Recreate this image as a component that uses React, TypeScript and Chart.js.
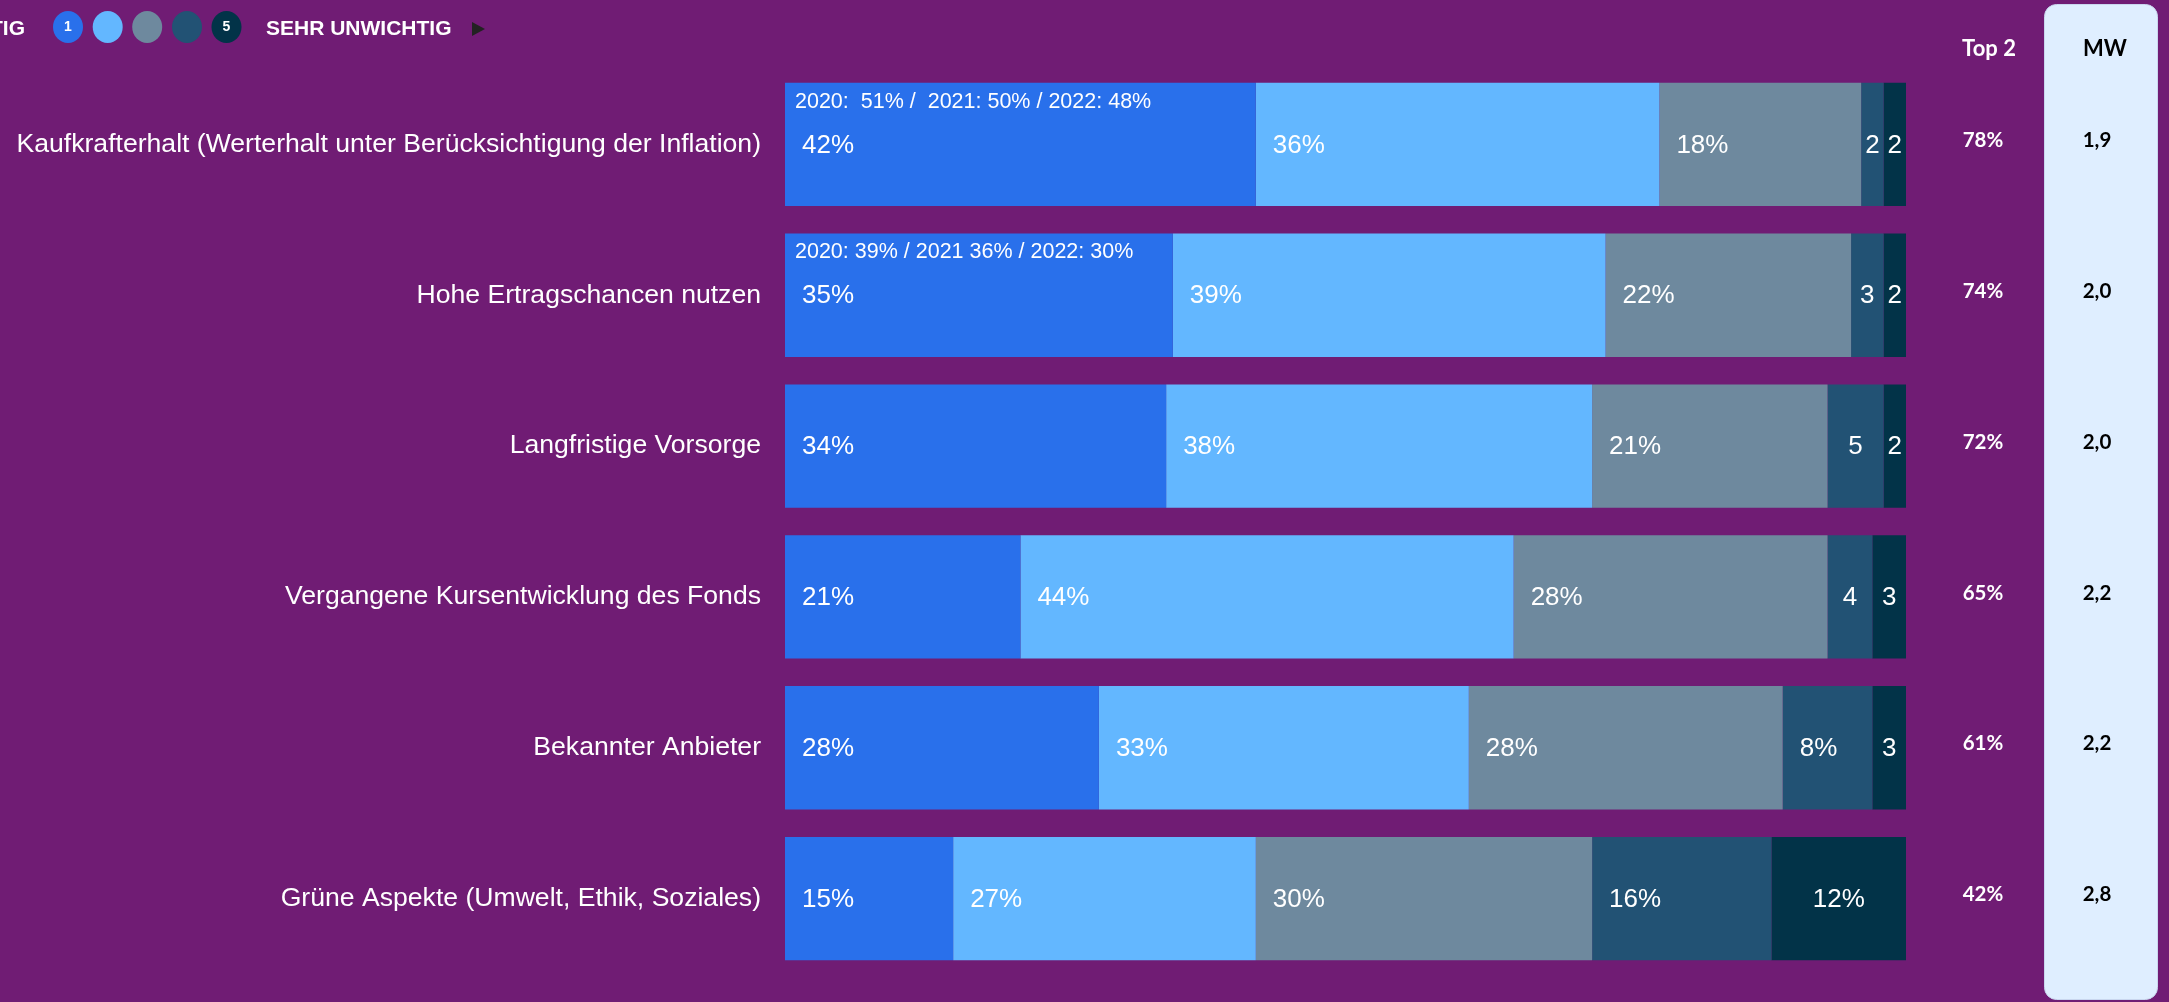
import React, { useEffect, useRef } from "react";
import { Chart, registerables } from "chart.js";

Chart.register(...registerables);

// ---------- data ----------
const categories = [
  "Kaufkrafterhalt (Werterhalt unter Berücksichtigung der Inflation)",
  "Hohe Ertragschancen nutzen",
  "Langfristige Vorsorge",
  "Vergangene Kursentwicklung des Fonds",
  "Bekannter Anbieter",
  "Grüne Aspekte (Umwelt, Ethik, Soziales)",
];
const rating1 = [42, 34.6, 34, 21, 28, 15];
const rating2 = [36, 38.6, 38, 44, 33, 27];
const rating3 = [18, 21.9, 21, 28, 28, 30];
const rating4 = [2, 2.9, 5, 4, 8, 16];
const rating5 = [2, 2.0, 2, 3, 3, 12];
const top2 = [78, 74, 72, 65, 61, 42];
const meanValues = [1.9, 2.0, 2.0, 2.2, 2.2, 2.8];
const trendNotes = [
  "2020:  51% /  2021: 50% / 2022: 48%",
  "2020: 39% / 2021 36% / 2022: 30%",
  "",
  "",
  "",
  "",
];
const legendLeftText = "SEHR WICHTIG";
const legendRightText = "SEHR UNWICHTIG";
const legendNumbers = ["1", "", "", "", "5"];
const headerTop2 = "Top 2";
const headerMW = "MW";

// ---------- styles ----------
const BG = "#701C74";
const seriesColors = ["#2970EB", "#63B7FF", "#6E899E", "#225274", "#023348"];
const PANEL = "#DFEEFF";
const ARIAL = "'Liberation Sans', Arial, sans-serif";
const CAL = "Lato, 'Open Sans', sans-serif";

const overlayPlugin = {
  id: "overlay",
  beforeDraw(chart: any) {
    const ctx = chart.ctx;
    ctx.save();
    ctx.fillStyle = BG;
    ctx.fillRect(0, 0, chart.width, chart.height);
    // MW panel
    ctx.fillStyle = PANEL;
    ctx.strokeStyle = "#C9D6EE";
    ctx.lineWidth = 1;
    ctx.beginPath();
    (ctx as any).roundRect(2044.5, 4.5, 113, 995, 12);
    ctx.fill();
    ctx.stroke();
    ctx.restore();
  },
  afterDatasetsDraw(chart: any) {
    const ctx = chart.ctx;
    ctx.save();
    ctx.fillStyle = "#FFFFFF";
    ctx.textBaseline = "middle";
    chart.data.datasets.forEach((ds: any, di: number) => {
      const meta = chart.getDatasetMeta(di);
      meta.data.forEach((el: any, i: number) => {
        const v = ds.data[i];
        const r = Math.round(v);
        const start = Math.min(el.base, el.x);
        const end = Math.max(el.base, el.x);
        ctx.font = `26px ${ARIAL}`;
        if (v >= 8 && di < 4) {
          ctx.textAlign = "left";
          ctx.fillText(`${r}%`, start + 17, el.y + 1);
        } else {
          ctx.textAlign = "center";
          ctx.fillText(v >= 8 ? `${r}%` : `${r}`, (start + end) / 2, el.y + 1);
        }
      });
    });
    // trend notes
    const meta0 = chart.getDatasetMeta(0);
    meta0.data.forEach((el: any, i: number) => {
      if (!trendNotes[i]) return;
      const top = el.y - el.height / 2;
      ctx.font = `21.5px ${ARIAL}`;
      ctx.textAlign = "left";
      ctx.fillText(trendNotes[i], Math.min(el.base, el.x) + 10, top + 19);
    });
    ctx.restore();
  },
  afterDraw(chart: any) {
    const ctx = chart.ctx;
    const yScale = chart.scales.y;
    ctx.save();
    ctx.textBaseline = "middle";
    // category labels
    ctx.fillStyle = "#FFFFFF";
    ctx.font = `26.6px ${ARIAL}`;
    ctx.textAlign = "right";
    categories.forEach((c, i) => {
      ctx.fillText(c, 761, yScale.getPixelForValue(i));
    });
    // headers
    ctx.font = `bold 22px ${CAL}`;
    ctx.textAlign = "center";
    ctx.fillStyle = "#FFFFFF";
    ctx.fillText(headerTop2, 1989, 49);
    ctx.fillStyle = "#000000";
    ctx.fillText(headerMW, 2105, 49);
    // values
    ctx.font = `bold 20.5px ${CAL}`;
    categories.forEach((_, i) => {
      const y = yScale.getPixelForValue(i) - 4;
      ctx.fillStyle = "#FFFFFF";
      ctx.fillText(`${top2[i]}%`, 1983, y);
      ctx.fillStyle = "#000000";
      ctx.fillText(meanValues[i].toFixed(1).replace(".", ","), 2097, y);
    });
    // legend
    ctx.font = `bold 21px ${ARIAL}`;
    ctx.fillStyle = "#FFFFFF";
    ctx.textAlign = "right";
    ctx.fillText(legendLeftText, 25, 29);
    const cx = [68, 107.7, 147.2, 187, 226.5];
    cx.forEach((x, k) => {
      ctx.beginPath();
      ctx.ellipse(x, 27, 15, 16, 0, 0, Math.PI * 2);
      ctx.fillStyle = seriesColors[k];
      ctx.fill();
      if (legendNumbers[k]) {
        ctx.fillStyle = "#FFFFFF";
        ctx.font = `bold 14px ${ARIAL}`;
        ctx.textAlign = "center";
        ctx.fillText(legendNumbers[k], x, 27);
      }
    });
    ctx.font = `bold 21px ${ARIAL}`;
    ctx.fillStyle = "#FFFFFF";
    ctx.textAlign = "left";
    ctx.fillText(legendRightText, 266, 29);
    ctx.fillStyle = "#222222";
    ctx.beginPath();
    ctx.moveTo(472, 22);
    ctx.lineTo(485, 29);
    ctx.lineTo(472, 36);
    ctx.closePath();
    ctx.fill();
    ctx.restore();
  },
};

export default function App() {
  const ref = useRef<HTMLCanvasElement | null>(null);
  useEffect(() => {
    if (!ref.current) return;
    const series = [rating1, rating2, rating3, rating4, rating5];
    const chart = new Chart(ref.current, {
      type: "bar",
      data: {
        labels: categories,
        datasets: series.map((d, k) => ({
          label: String(k + 1),
          data: d,
          backgroundColor: seriesColors[k],
          borderWidth: 0,
          categoryPercentage: 1,
          barPercentage: 0.818,
        })),
      },
      options: {
        indexAxis: "y",
        animation: false,
        responsive: false,
        devicePixelRatio: 1,
        layout: { padding: { left: 785, right: 263, top: 69, bottom: 28 } },
        scales: {
          x: { stacked: true, min: 0, max: 100, display: false },
          y: { stacked: true, display: false },
        },
        plugins: { legend: { display: false }, tooltip: { enabled: false } },
      },
      plugins: [overlayPlugin],
    } as any);
    return () => chart.destroy();
  }, []);
  return (
    <div style={{ position: "fixed", left: 0, top: 0, width: 2169, height: 1002 }}>
      <canvas ref={ref} width={2169} height={1002} style={{ display: "block" }} />
    </div>
  );
}
